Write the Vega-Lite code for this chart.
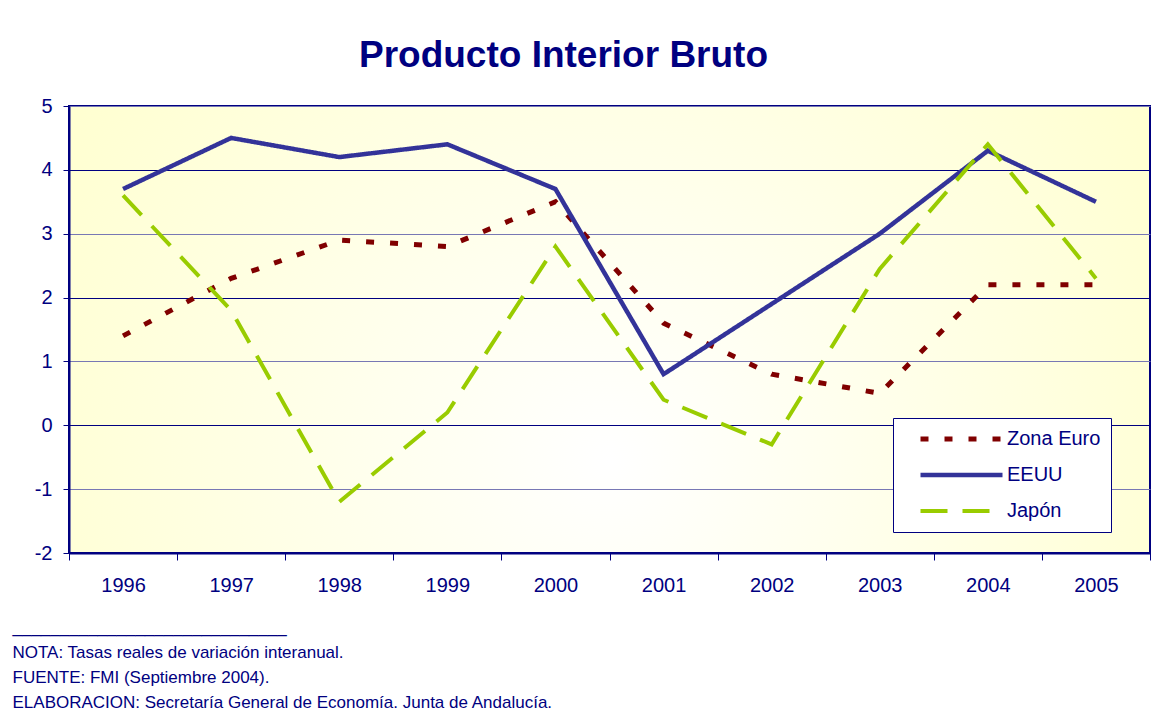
{
  "$schema": "https://vega.github.io/schema/vega-lite/v6.json",
  "width": 1081,
  "height": 447,
  "autosize": "none",
  "padding": {"left": 69, "top": 106, "right": 23, "bottom": 167},
  "background": "white",
  "title": {
    "text": "Producto Interior Bruto",
    "font": "Liberation Sans",
    "fontSize": 37,
    "fontWeight": "bold",
    "color": "#000080",
    "anchor": "middle",
    "frame": "group",
    "dx": -46,
    "dy": 38,
    "offset": 30,
    "baseline": "alphabetic"
  },
  "config": {
    "font": "Liberation Sans",
    "view": {
      "stroke": "#000080",
      "strokeWidth": 2,
      "fill": {
        "gradient": "radial",
        "x1": 0.5, "y1": 0.62, "r1": 0,
        "x2": 0.5, "y2": 0.62, "r2": 0.75,
        "stops": [
          {"offset": 0, "color": "#FFFFFF"},
          {"offset": 1, "color": "#FFFFC4"}
        ]
      }
    }
  },
  "data": {
    "values": [
      {"anio": "1996", "serie": "Zona Euro", "valor": 1.4},
      {"anio": "1997", "serie": "Zona Euro", "valor": 2.3},
      {"anio": "1998", "serie": "Zona Euro", "valor": 2.9},
      {"anio": "1999", "serie": "Zona Euro", "valor": 2.8},
      {"anio": "2000", "serie": "Zona Euro", "valor": 3.5},
      {"anio": "2001", "serie": "Zona Euro", "valor": 1.6},
      {"anio": "2002", "serie": "Zona Euro", "valor": 0.8},
      {"anio": "2003", "serie": "Zona Euro", "valor": 0.5},
      {"anio": "2004", "serie": "Zona Euro", "valor": 2.2},
      {"anio": "2005", "serie": "Zona Euro", "valor": 2.2},
      {"anio": "1996", "serie": "EEUU", "valor": 3.7},
      {"anio": "1997", "serie": "EEUU", "valor": 4.5},
      {"anio": "1998", "serie": "EEUU", "valor": 4.2},
      {"anio": "1999", "serie": "EEUU", "valor": 4.4},
      {"anio": "2000", "serie": "EEUU", "valor": 3.7},
      {"anio": "2001", "serie": "EEUU", "valor": 0.8},
      {"anio": "2002", "serie": "EEUU", "valor": 1.9},
      {"anio": "2003", "serie": "EEUU", "valor": 3.0},
      {"anio": "2004", "serie": "EEUU", "valor": 4.3},
      {"anio": "2005", "serie": "EEUU", "valor": 3.5},
      {"anio": "1996", "serie": "Japón", "valor": 3.6},
      {"anio": "1997", "serie": "Japón", "valor": 1.8},
      {"anio": "1998", "serie": "Japón", "valor": -1.2},
      {"anio": "1999", "serie": "Japón", "valor": 0.2},
      {"anio": "2000", "serie": "Japón", "valor": 2.8},
      {"anio": "2001", "serie": "Japón", "valor": 0.4},
      {"anio": "2002", "serie": "Japón", "valor": -0.3},
      {"anio": "2003", "serie": "Japón", "valor": 2.45},
      {"anio": "2004", "serie": "Japón", "valor": 4.4},
      {"anio": "2005", "serie": "Japón", "valor": 2.3}
    ]
  },
  "mark": {"type": "line", "strokeCap": "butt"},
  "encoding": {
    "x": {
      "field": "anio",
      "type": "ordinal",
      "scale": {"type": "band", "paddingInner": 0, "paddingOuter": 0},
      "axis": {
        "title": [
          "_____________________________",
          "NOTA: Tasas reales de variación interanual.",
          "FUENTE: FMI (Septiembre 2004).",
          "ELABORACION: Secretaría General de Economía. Junta de Andalucía."
        ],
        "titleFont": "Liberation Sans",
        "titleFontSize": 17,
        "titleFontWeight": "normal",
        "titleColor": "#000080",
        "titleAlign": "left",
        "titleAnchor": "start",
        "titleX": -57,
        "titleY": 79,
        "titleBaseline": "alphabetic",
        "titleLineHeight": 25,
        "labelAngle": 0,
        "labelFont": "Liberation Sans",
        "labelFontSize": 20,
        "labelColor": "#000080",
        "labelPadding": 15,
        "tickBand": "extent",
        "tickSize": 7,
        "tickColor": "#000080",
        "domainColor": "#000080",
        "domainWidth": 2,
        "grid": false
      }
    },
    "y": {
      "field": "valor",
      "type": "quantitative",
      "scale": {"domain": [-2, 5], "nice": false, "zero": false},
      "axis": {
        "title": null,
        "values": [-2, -1, 0, 1, 2, 3, 4, 5],
        "labelExpr": "datum.value < 0 ? '-' + abs(datum.value) : '' + datum.value",
        "grid": true,
        "gridColor": {"condition": {"test": "datum.value % 2 === 0", "value": "#000080"}, "value": "#7878B4"},
        "gridWidth": 1,
        "tickSize": 6,
        "tickColor": "#000080",
        "labelPadding": 11,
        "labelFont": "Liberation Sans",
        "labelFontSize": 20,
        "labelColor": "#000080",
        "domainColor": "#000080",
        "domainWidth": 2
      }
    },
    "color": {
      "field": "serie",
      "type": "nominal",
      "scale": {"domain": ["Zona Euro", "EEUU", "Japón"], "range": ["#800000", "#333399", "#99CC00"]},
      "legend": {
        "title": null,
        "orient": "none",
        "legendX": 824,
        "legendY": 312,
        "fillColor": "white",
        "strokeColor": "#000080",
        "padding": 10,
        "symbolOffset": 15,
        "symbolType": "stroke",
        "symbolSize": 6724,
        "symbolStrokeWidth": 4.5,
        "clipHeight": 22,
        "labelExpr": "datum.label + '\u00a0\u00a0\u00a0\u00a0'",
        "labelFont": "Liberation Sans",
        "labelFontSize": 20,
        "labelColor": "#000080",
        "labelOffset": 2,
        "labelLimit": 0,
        "rowPadding": 14
      }
    },
    "strokeDash": {
      "field": "serie",
      "type": "nominal",
      "scale": {"domain": ["Zona Euro", "EEUU", "Japón"], "range": [[8, 16], [1, 0], [27, 15]]},
      "legend": {
        "title": null,
        "orient": "none",
        "legendX": 824,
        "legendY": 312,
        "fillColor": "white",
        "strokeColor": "#000080",
        "padding": 10,
        "symbolOffset": 15,
        "symbolType": "stroke",
        "symbolSize": 6724,
        "symbolStrokeWidth": 4.5,
        "clipHeight": 22,
        "labelExpr": "datum.label + '\u00a0\u00a0\u00a0\u00a0'",
        "labelFont": "Liberation Sans",
        "labelFontSize": 20,
        "labelColor": "#000080",
        "labelOffset": 2,
        "labelLimit": 0,
        "rowPadding": 14
      }
    },
    "strokeWidth": {
      "field": "serie",
      "type": "nominal",
      "scale": {"domain": ["Zona Euro", "EEUU", "Japón"], "range": [5, 4, 4.5]},
      "legend": null
    }
  }
}
